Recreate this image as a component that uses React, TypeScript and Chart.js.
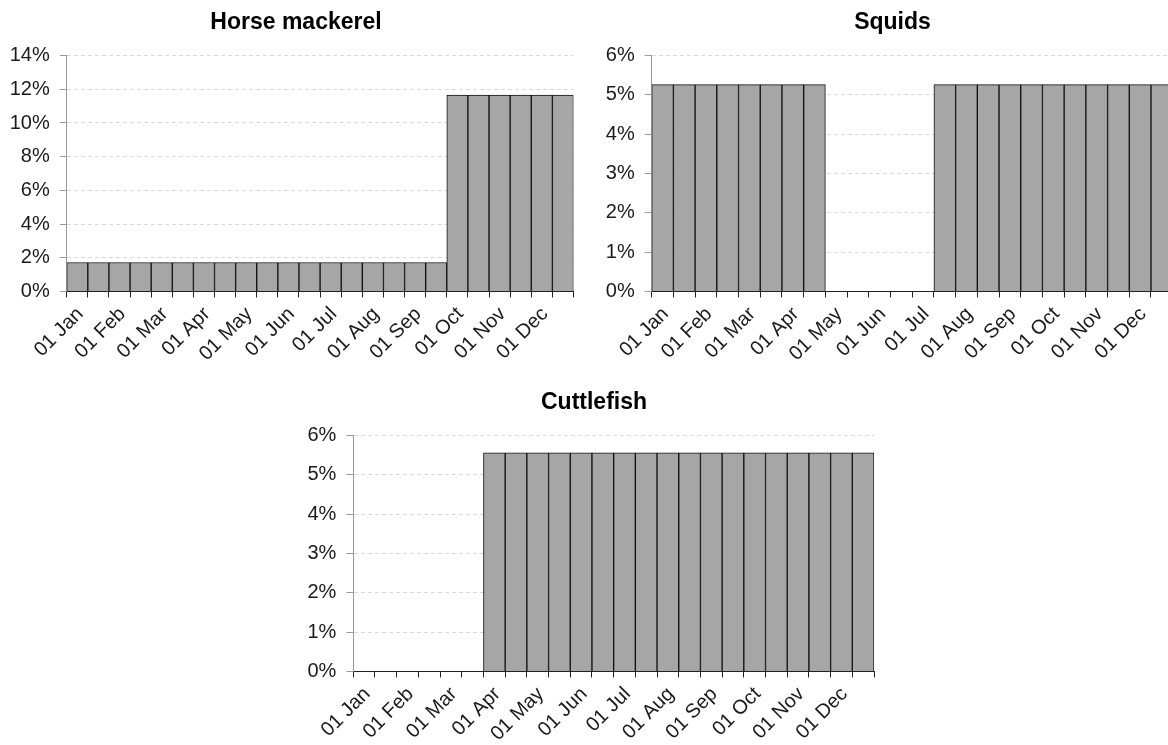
import React, { useEffect, useRef } from 'react';
import { Chart, registerables } from 'chart.js';

Chart.register(...registerables);
Chart.defaults.font.family = '"Liberation Sans", Arial, sans-serif';

// Half-month periods (24 bars per panel)
const periods = [
  '01 Jan', '16 Jan', '01 Feb', '16 Feb', '01 Mar', '16 Mar',
  '01 Apr', '16 Apr', '01 May', '16 May', '01 Jun', '16 Jun',
  '01 Jul', '16 Jul', '01 Aug', '16 Aug', '01 Sep', '16 Sep',
  '01 Oct', '16 Oct', '01 Nov', '16 Nov', '01 Dec', '16 Dec',
];

// Share of yearly catch per period (%)
const horseMackerel = [
  1.72, 1.72, 1.72, 1.72, 1.72, 1.72,
  1.72, 1.72, 1.72, 1.72, 1.72, 1.72,
  1.72, 1.72, 1.72, 1.72, 1.72, 1.72,
  11.66, 11.66, 11.66, 11.66, 11.66, 11.66,
];

const squids = [
  5.26, 5.26, 5.26, 5.26, 5.26, 5.26,
  5.26, 5.26, 0, 0, 0, 0,
  0, 5.26, 5.26, 5.26, 5.26, 5.26,
  5.26, 5.26, 5.26, 5.26, 5.26, 5.26,
];

const cuttlefish = [
  0, 0, 0, 0, 0, 0,
  5.56, 5.56, 5.56, 5.56, 5.56, 5.56,
  5.56, 5.56, 5.56, 5.56, 5.56, 5.56,
  5.56, 5.56, 5.56, 5.56, 5.56, 5.56,
];

const horseYMax = 14;
const horseYStep = 2;
const squidYMax = 6;
const squidYStep = 1;
const cuttleYMax = 6;
const cuttleYStep = 1;

type PanelProps = {
  title: string;
  values: number[];
  yMax: number;
  yStep: number;
  left: number;
  top: number;
  width: number;
  height: number;
  yAxisWidth: number;
  padRight: number;
};

const PLOT_BOTTOM = 291.5;

function Panel({ title, values, yMax, yStep, left, top, width, height, yAxisWidth, padRight }: PanelProps) {
  const ref = useRef<HTMLCanvasElement>(null);
  useEffect(() => {
    const chart = new Chart(ref.current as HTMLCanvasElement, {
      type: 'bar',
      data: {
        labels: periods,
        datasets: [
          {
            data: values,
            yAxisID: 'y',
            backgroundColor: '#a6a6a6',
            borderColor: '#111',
            borderWidth: { top: 1, left: 1, right: 1, bottom: 0 },
            borderSkipped: 'start',
            categoryPercentage: 1,
            barPercentage: 1,
          },
        ],
      },
      options: {
        responsive: false,
        maintainAspectRatio: false,
        animation: false,
        layout: { padding: 0 },
        plugins: {
          legend: { display: false },
          tooltip: { enabled: false },
          title: {
            display: true,
            text: title,
            color: '#000',
            font: { size: 23, weight: 'bold' },
            padding: { top: 9, bottom: 19 },
          },
        },
        scales: {
          x: {
            type: 'category',
            z: 1,
            offset: true,
            grid: {
              offset: true,
              drawOnChartArea: false,
              drawTicks: true,
              tickLength: 6,
              tickColor: '#222',
            },
            border: { color: '#222', width: 1 },
            ticks: {
              autoSkip: false,
              minRotation: 45,
              maxRotation: 45,
              color: '#1a1a1a',
              padding: 5,
              labelOffset: 3,
              font: { size: 20 },
              callback: (_v: any, i: number) => (i % 2 === 0 ? periods[i] : ''),
            },
            afterFit: (s: any) => {
              s.height = height - PLOT_BOTTOM;
            },
          },
          y: {
            min: 0,
            max: yMax,
            ticks: {
              stepSize: yStep,
              padding: 10,
              color: '#1a1a1a',
              font: { size: 20 },
              callback: (v: any) => v + '%',
            },
            grid: {
              color: (ctx: any) => (ctx.tick && ctx.tick.value === 0 ? 'rgba(0,0,0,0)' : '#d9d9d9'),
              tickColor: '#999',
              tickLength: 7,
              drawTicks: true,
            },
            border: { color: '#999', width: 1, dash: [4, 3] },
            afterFit: (s: any) => {
              s.width = yAxisWidth;
            },
          },
          // empty right-hand margin so that the title is centred on the whole panel
          yMargin: {
            type: 'linear',
            position: 'right',
            display: true,
            grid: { display: false, drawTicks: false },
            border: { display: false },
            ticks: { display: false },
            afterFit: (s: any) => {
              s.width = padRight;
            },
          },
        },
      } as any,
    });
    return () => chart.destroy();
  }, []);
  return (
    <canvas
      ref={ref}
      width={width}
      height={height}
      style={{ position: 'absolute', left, top, width, height, display: 'block' }}
    />
  );
}

export default function App() {
  return (
    <div
      style={{
        position: 'absolute',
        left: 0,
        top: 0,
        width: 1168,
        height: 745,
        overflow: 'hidden',
        background: '#fff',
      }}
    >
      <Panel title="Horse mackerel" values={horseMackerel} yMax={horseYMax} yStep={horseYStep}
        left={0} top={0} width={592} height={375} yAxisWidth={66.7} padRight={18.5} />
      <Panel title="Squids" values={squids} yMax={squidYMax} yStep={squidYStep}
        left={600} top={0} width={585} height={375} yAxisWidth={51.7} padRight={12.3} />
      <Panel title="Cuttlefish" values={cuttlefish} yMax={cuttleYMax} yStep={cuttleYStep}
        left={300} top={380} width={588} height={375} yAxisWidth={53.3} padRight={14} />
    </div>
  );
}
